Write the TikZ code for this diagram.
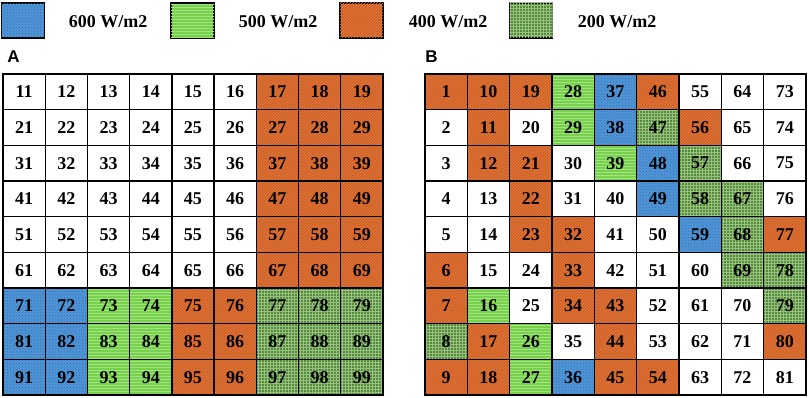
\documentclass[tikz,border=0pt]{standalone}
\usepackage{fontspec}
\setmainfont{Liberation Serif}
\newfontfamily\labfont{Liberation Sans}
\usetikzlibrary{patterns}

\definecolor{bluebase}{RGB}{80,150,215}
\definecolor{bluedots}{RGB}{50,110,180}
\definecolor{greenbase}{RGB}{120,208,78}
\definecolor{greenline}{RGB}{160,228,125}
\definecolor{orngbase}{RGB}{208,96,38}
\definecolor{orngline}{RGB}{228,125,65}
\definecolor{dgreenbase}{RGB}{80,140,58}
\definecolor{dgreenline}{RGB}{155,192,130}

\tikzset{
    cell/.style={minimum width=42.2pt, minimum height=35.7pt,
        inner sep=0pt, outer sep=0pt, font=\fontsize{18}{18}\selectfont\bfseries},
    frame/.style={draw, line width=1.4pt},
    keybox/.style={cell, frame, minimum width=43pt, minimum height=35pt},
    cw/.style={fill=white},
    cb/.style={fill=bluebase, postaction={pattern=crosshatch dots, pattern color=bluedots}},
    cg/.style={fill=greenbase, postaction={pattern=horizontal lines, pattern color=greenline}},
    co/.style={fill=orngbase, postaction={pattern=north east lines, pattern color=orngline}},
    cd/.style={fill=dgreenbase, postaction={pattern=grid, pattern color=dgreenline}},
    keytext/.style={font=\fontsize{18}{18}\selectfont\bfseries},
    panel/.style={font=\labfont\fontsize{17}{17}\selectfont\bfseries}
}

\begin{document}
\begin{tikzpicture}[x=1pt, y=1pt]
        \useasboundingbox (0,0) rectangle (809,398);
        % legend
        \draw
            (23, 377.5) node[keybox,cb] (key600){}
            (108, 376) node[keytext] (txt600){600 W/m2}
            (192.5, 377.5) node[keybox,cg] (key500){}
            (278, 376) node[keytext] (txt500){500 W/m2}
            (361.5, 377.5) node[keybox,co] (key400){}
            (448, 376) node[keytext] (txt400){400 W/m2}
            (531, 377.5) node[keybox,cd] (key200){}
            (617, 376) node[keytext] (txt200){200 W/m2};
        \draw
            (13.5, 341) node[panel] (labA){A}
            (431.5, 341) node[panel] (labB){B};
        % grid A, row by row
        \foreach \r/\row in {1/{cw,cw,cw,cw,cw,cw,co,co,co}, 2/{cw,cw,cw,cw,cw,cw,co,co,co},
                3/{cw,cw,cw,cw,cw,cw,co,co,co}, 4/{cw,cw,cw,cw,cw,cw,co,co,co},
                5/{cw,cw,cw,cw,cw,cw,co,co,co}, 6/{cw,cw,cw,cw,cw,cw,co,co,co},
                7/{cb,cb,cg,cg,co,co,cd,cd,cd}, 8/{cb,cb,cg,cg,co,co,cd,cd,cd},
                9/{cb,cb,cg,cg,co,co,cd,cd,cd}}
            \foreach \s [count=\c] in \row {
                \pgfmathtruncatemacro{\n}{10*\r+\c}
                \node[cell,\s] (a\n) at ({3+42.22*(\c-0.5)}, {398-74-35.67*(\r-0.5)}) {\n};
            }
        % grid B, numbered down the columns
        \foreach \r/\row in {1/{co,co,co,cg,cb,co,cw,cw,cw}, 2/{cw,co,cw,cg,cb,cd,co,cw,cw},
                3/{cw,co,co,cw,cg,cb,cd,cw,cw}, 4/{cw,cw,co,cw,cw,cb,cd,cd,cw},
                5/{cw,cw,co,co,cw,cw,cb,cd,co}, 6/{co,cw,cw,co,cw,cw,cw,cd,cd},
                7/{co,cg,cw,co,co,cw,cw,cw,cd}, 8/{cd,co,cg,cw,co,cw,cw,cw,co},
                9/{co,co,cg,cb,co,co,cw,cw,cw}}
            \foreach \s [count=\c] in \row {
                \pgfmathtruncatemacro{\n}{9*(\c-1)+\r}
                \node[cell,\s] (b\n) at ({425+42.33*(\c-0.5)}, {398-74-35.67*(\r-0.5)}) {\n};
            }
        % cell borders on top
        \foreach \r in {1,...,9}
            \foreach \c in {1,...,9} {
                \pgfmathtruncatemacro{\n}{10*\r+\c}
                \draw[frame] (a\n.north west) rectangle (a\n.south east);
            }
        \foreach \n in {1,...,81}
            \draw[frame] (b\n.north west) rectangle (b\n.south east);
  \end{tikzpicture}
\end{document}
